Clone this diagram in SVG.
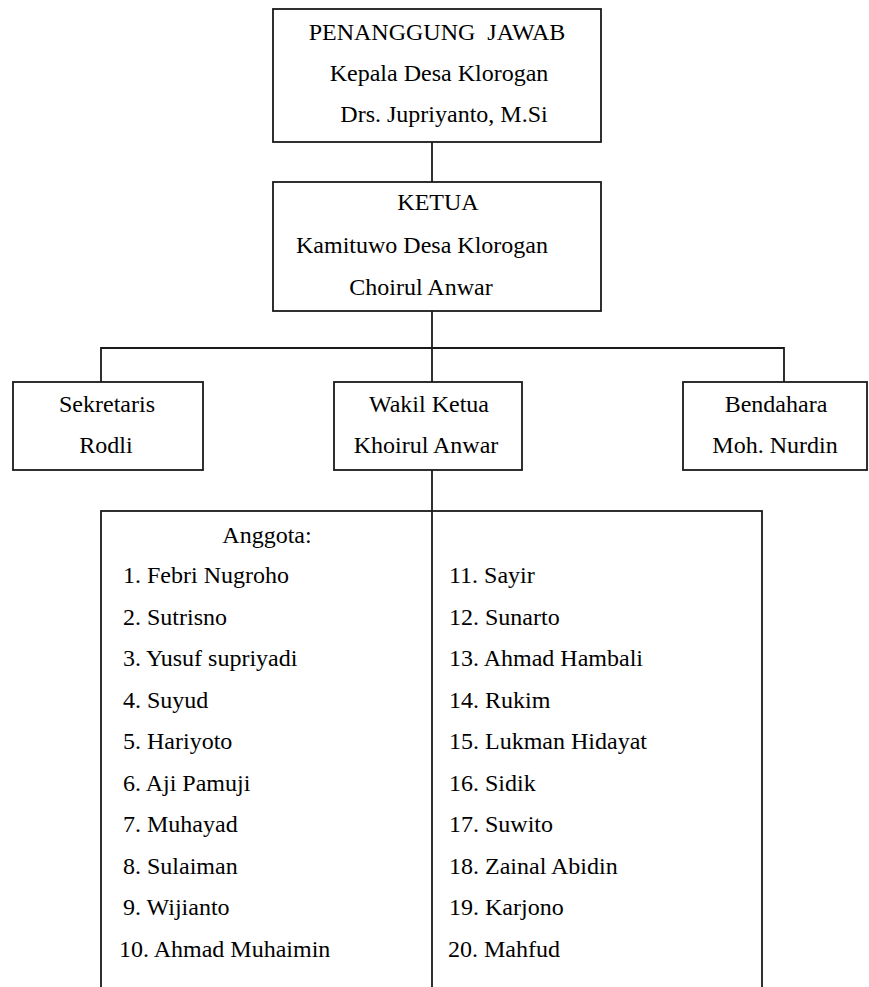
<svg xmlns="http://www.w3.org/2000/svg" width="869" height="987" viewBox="0 0 869 987">
<style>
.box{fill:#fff;stroke:#1a1a1a;stroke-width:1.8}
.ln{fill:none;stroke:#1a1a1a;stroke-width:1.8}
text{font-family:"Liberation Serif","Times New Roman",serif;font-size:24px;fill:#000}
.c{text-anchor:middle}
</style>
<rect width="869" height="987" fill="#fff"/>
<g id="connectors">
<path class="ln" d="M432,142V182"/>
<path class="ln" d="M432,311V382"/>
<path class="ln" d="M101,382V348H784V382"/>
<path class="ln" d="M432,470V511"/>
</g>
<g id="penanggung-jawab">
<rect class="box" x="273" y="9" width="328" height="133"/>
<text class="c" x="437" y="40" xml:space="preserve">PENANGGUNG  JAWAB</text>
<text class="c" x="439" y="81">Kepala Desa Klorogan</text>
<text class="c" x="444" y="122">Drs. Jupriyanto, M.Si</text>
</g>
<g id="ketua">
<rect class="box" x="273" y="182" width="328" height="129"/>
<text class="c" x="438" y="210">KETUA</text>
<text class="c" x="422" y="253">Kamituwo Desa Klorogan</text>
<text class="c" x="421" y="295">Choirul Anwar</text>
</g>
<g id="sekretaris">
<rect class="box" x="13" y="382" width="190" height="88"/>
<text class="c" x="107" y="412">Sekretaris</text>
<text class="c" x="106" y="453">Rodli</text>
</g>
<g id="wakil-ketua">
<rect class="box" x="334" y="382" width="188" height="88"/>
<text class="c" x="429" y="412">Wakil Ketua</text>
<text class="c" x="426" y="453">Khoirul Anwar</text>
</g>
<g id="bendahara">
<rect class="box" x="683" y="382" width="184" height="88"/>
<text class="c" x="776" y="412">Bendahara</text>
<text class="c" x="775" y="453">Moh. Nurdin</text>
</g>
<g id="anggota">
<rect class="box" x="101" y="511" width="661" height="500"/>
<path class="ln" d="M432,511V987"/>
<text class="c" x="267" y="543">Anggota:</text>
<text x="123" y="583">1. Febri Nugroho</text>
<text x="123" y="625">2. Sutrisno</text>
<text x="123" y="666">3. Yusuf supriyadi</text>
<text x="123" y="708">4. Suyud</text>
<text x="123" y="749">5. Hariyoto</text>
<text x="123" y="791">6. Aji Pamuji</text>
<text x="123" y="832">7. Muhayad</text>
<text x="123" y="874">8. Sulaiman</text>
<text x="123" y="915">9. Wijianto</text>
<text x="119" y="957">10. Ahmad Muhaimin</text>
<text x="449" y="583">11. Sayir</text>
<text x="449" y="625">12. Sunarto</text>
<text x="449" y="666">13. Ahmad Hambali</text>
<text x="449" y="708">14. Rukim</text>
<text x="449" y="749">15. Lukman Hidayat</text>
<text x="449" y="791">16. Sidik</text>
<text x="449" y="832">17. Suwito</text>
<text x="449" y="874">18. Zainal Abidin</text>
<text x="449" y="915">19. Karjono</text>
<text x="448" y="957">20. Mahfud</text>
</g>
</svg>
